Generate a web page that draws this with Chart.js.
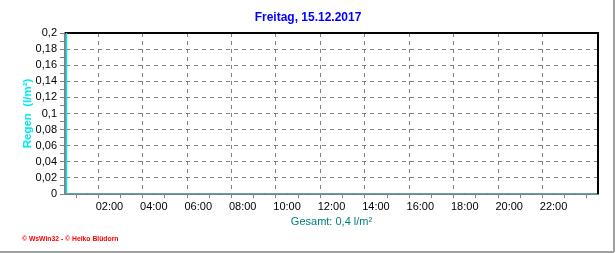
<!DOCTYPE html>
<html>
<head>
<meta charset="utf-8">
<script src="https://cdn.jsdelivr.net/npm/chart.js@4/dist/chart.umd.min.js"></script>
<style>
  html, body { margin: 0; padding: 0; background: #fff; }
  canvas { display: block; }
</style>
</head>
<body>
<canvas id="rainChart" width="616" height="253"></canvas>
<script>
// hourly rain for the day (l/m²) - nothing fell
const hours = [0.5, 1.5, 2.5, 3.5, 4.5, 5.5, 6.5, 7.5, 8.5, 9.5, 10.5, 11.5,
               12.5, 13.5, 14.5, 15.5, 16.5, 17.5, 18.5, 19.5, 20.5, 21.5, 22.5, 23.5];
const rain = [0, 0, 0, 0, 0, 0, 0, 0, 0, 0, 0, 0,
              0, 0, 0, 0, 0, 0, 0, 0, 0, 0, 0, 0];
const titleText = 'Freitag, 15.12.2017';
const yTitle = 'Regen  (l/m²)';
const totalText = 'Gesamt: 0,4 l/m²';
const footerText = '© WsWin32 - © Heiko Blüdorn';

const GRID = '#808080';

const framePlugin = {
    id: 'frame',
    afterDraw(chart) {
        const c = chart.ctx;
        const a = chart.chartArea;
        c.save();
        // plot frame top/right
        c.strokeStyle = '#000';
        c.lineWidth = 2;
        c.beginPath();
        c.moveTo(a.left, a.top);
        c.lineTo(a.right, a.top);
        c.lineTo(a.right, a.bottom);
        c.stroke();
        // cyan series axis line
        c.strokeStyle = '#00e8f0';
        c.lineWidth = 1.5;
        c.beginPath();
        c.moveTo(a.left + 1.5, a.top);
        c.lineTo(a.left + 1.5, a.bottom - 1);
        c.stroke();
        // image border
        c.strokeStyle = '#a0a0a0';
        c.lineWidth = 2;
        c.beginPath();
        c.moveTo(0, 252);
        c.lineTo(614, 252);
        c.moveTo(614, 0);
        c.lineTo(614, 252);
        c.stroke();
        // title
        c.fillStyle = '#0000ff';
        c.font = 'bold 12px "Liberation Sans", Arial, sans-serif';
        c.textAlign = 'center';
        c.textBaseline = 'middle';
        c.fillText(titleText, 308, 18);
        // footer
        c.fillStyle = '#ff0000';
        c.font = 'bold 6.8px "Liberation Sans", Arial, sans-serif';
        c.textAlign = 'left';
        c.fillText(footerText, 22, 239);
        c.restore();
    }
};

const ctx = document.getElementById('rainChart');

const myChart = new Chart(ctx, {
    type: 'bar',
    data: {
        datasets: [{
            label: 'Regen',
            data: hours.map((h, i) => ({ x: h, y: rain[i] })),
            backgroundColor: '#00ffff',
            borderWidth: 0,
            barThickness: 20
        }]
    },
    options: {
        responsive: false,
        animation: false,
        layout: { padding: { top: 33, right: 18, left: 0, bottom: 0 } },
        plugins: {
            legend: { display: false },
            tooltip: { enabled: false },
            title: { display: false }
        },
        scales: {
            x: {
                type: 'linear',
                min: 0,
                max: 24,
                offset: false,
                afterFit(scale) { scale.height = 59; },
                afterBuildTicks(scale) {
                    scale.ticks = [];
                    for (let h = 0; h <= 24; h++) scale.ticks.push({ value: h });
                },
                ticks: {
                    autoSkip: false,
                    maxRotation: 0,
                    padding: 2,
                    color: '#000',
                    font: { family: '"Liberation Sans", Arial, sans-serif', size: 11 },
                    callback(v) {
                        if (v % 2 !== 0 || v === 0 || v === 24) return '';
                        return String(v).padStart(2, '0') + ':00';
                    }
                },
                grid: {
                    color(c) {
                        const v = c.tick ? c.tick.value : 0;
                        return (v % 2 === 0 && v > 0 && v < 24) ? GRID : 'rgba(0,0,0,0)';
                    },
                    tickColor: GRID,
                    tickLength: 4,
                    tickBorderDash: [],
                    lineWidth: 1
                },
                border: { color: GRID, width: 2, dash: [4, 4] },
                title: {
                    display: true,
                    text: totalText,
                    color: '#008080',
                    padding: { top: 0, bottom: 24 },
                    font: { family: '"Liberation Sans", Arial, sans-serif', size: 11 }
                }
            },
            y: {
                min: 0,
                max: 0.2,
                afterFit(scale) { scale.width = 65; },
                afterBuildTicks(scale) {
                    scale.ticks = [];
                    for (let i = 0; i <= 20; i++) scale.ticks.push({ value: i / 100 });
                },
                ticks: {
                    autoSkip: false,
                    padding: 3,
                    color: '#000',
                    font: { family: '"Liberation Sans", Arial, sans-serif', size: 11 },
                    callback(v) {
                        const n = Math.round(v * 100);
                        if (n % 2 !== 0) return '';
                        return String(n / 100).replace('.', ',');
                    }
                },
                grid: {
                    color(c) {
                        const n = c.tick ? Math.round(c.tick.value * 100) : 0;
                        return (n % 2 === 0 && n > 0 && n < 20) ? GRID : 'rgba(0,0,0,0)';
                    },
                    tickColor: GRID,
                    tickLength: 5,
                    tickBorderDash: [],
                    lineWidth: 1
                },
                border: { color: GRID, width: 2, dash: [4, 4] },
                title: {
                    display: true,
                    text: yTitle,
                    color: '#00e8f0',
                    padding: { top: 21, bottom: 0 },
                    font: { family: '"Liberation Sans", Arial, sans-serif', size: 11.5, weight: 'bold' }
                }
            }
        }
    },
    plugins: [framePlugin]
});
</script>
</body>
</html>
